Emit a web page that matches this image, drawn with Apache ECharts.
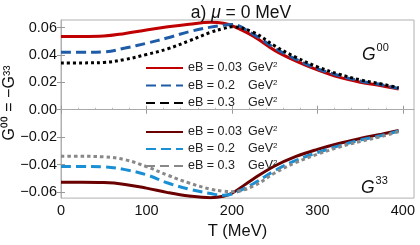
<!DOCTYPE html>
<html><head><meta charset="utf-8">
<script src="https://cdn.jsdelivr.net/npm/echarts@6/dist/echarts.min.js"></script>
<style>html,body{margin:0;padding:0;background:#fff}#c{width:420px;height:245px}</style>
</head><body><div id="c"></div>
<script>
var T = [0, 25, 50, 75, 100, 125, 150, 175, 190, 200, 225, 250, 275, 300, 325, 350, 375, 395];
var g00_eB003 = [0.0535, 0.0535, 0.0538, 0.0557, 0.0582, 0.0605, 0.0624, 0.0638, 0.0632, 0.0614, 0.0537, 0.0433, 0.0355, 0.0291, 0.0238, 0.0201, 0.0175, 0.0152];
var g00_eB02  = [0.0419, 0.0419, 0.0422, 0.0450, 0.0485, 0.0525, 0.0570, 0.0603, 0.0617, 0.0622, 0.0550, 0.0450, 0.0368, 0.0300, 0.0250, 0.0210, 0.0182, 0.0155];
var g00_eB03  = [0.0342, 0.0342, 0.0345, 0.0367, 0.0403, 0.0445, 0.0503, 0.0565, 0.0592, 0.0605, 0.0565, 0.0466, 0.0382, 0.0313, 0.0260, 0.0218, 0.0188, 0.0160];
var g33_eB003 = [-0.0530, -0.0530, -0.0532, -0.0545, -0.0572, -0.0605, -0.0630, -0.0642, -0.0632, -0.0610, -0.0505, -0.0411, -0.0341, -0.0289, -0.0246, -0.0210, -0.0178, -0.0151];
var g33_eB02  = [-0.0414, -0.0414, -0.0417, -0.0437, -0.0475, -0.0535, -0.0580, -0.0612, -0.0624, -0.0615, -0.0540, -0.0445, -0.0370, -0.0313, -0.0264, -0.0222, -0.0188, -0.0155];
var g33_eB03  = [-0.0340, -0.0340, -0.0344, -0.0365, -0.0415, -0.0478, -0.0535, -0.0580, -0.0594, -0.0598, -0.0558, -0.0462, -0.0385, -0.0325, -0.0274, -0.0232, -0.0195, -0.0160];
var xTicks = [0, 100, 200, 300, 400];
var yTicks = [-0.06, -0.04, -0.02, 0.00, 0.02, 0.04, 0.06];
var legendTop = ['eB = 0.03 GeV\u00b2 ', 'eB = 0.2 GeV\u00b2 ', 'eB = 0.3 GeV\u00b2 '];
var legendBot = ['eB = 0.03 GeV\u00b2', 'eB = 0.2 GeV\u00b2', 'eB = 0.3 GeV\u00b2'];

function pairs(v){ return T.map(function(t,i){ return [t, v[i]]; }); }
var FONT = '"Liberation Sans", Arial, sans-serif';
function fmtLegend(name){
  var p = name.trim().split(' ');
  return '{a|' + p[0] + ' ' + p[1] + ' ' + p[2] + '}{b|GeV}{s|2}';
}
function mkSeries(name, data, color, type, z){
  return {name: name, type: 'line', data: pairs(data), smooth: 0.4, symbol: 'none',
    lineStyle: {color: color, width: 3, type: type, cap: 'butt'}, itemStyle: {color: color}, z: z};
}
var chart = echarts.init(document.getElementById('c'), null, {renderer: 'canvas'});
var series = [
  mkSeries(legendTop[0], g00_eB003, '#c00000', 'solid', 3),
  mkSeries(legendTop[1], g00_eB02, '#1f5ca8', [10, 5], 4),
  mkSeries(legendTop[2], g00_eB03, '#000000', [3, 3], 5),
  mkSeries(legendBot[0], g33_eB003, '#6a0000', 'solid', 3),
  mkSeries(legendBot[1], g33_eB02, '#1a8fd4', [10, 5], 4),
  mkSeries(legendBot[2], g33_eB03, '#888888', [3.5, 3], 5)
];
series[0].markLine = {silent: true, symbol: 'none', label: {show: false},
  lineStyle: {color: '#aaaaaa', width: 1, type: 'solid'}, data: [{yAxis: 0}]};
var legRich = {
  a: {width: 60, fontSize: 12.5, fontFamily: FONT, color: '#222'},
  b: {fontSize: 12.5, fontFamily: FONT, color: '#222'},
  s: {fontSize: 8, fontFamily: FONT, color: '#222', verticalAlign: 'top', padding: [0, 0, 6, 0]}
};
var legItem = {opacity: 0, borderWidth: 0};
var titleStyle = {fontFamily: FONT, fontSize: 17.5, fontWeight: 'normal', color: '#111'};
chart.setOption({
  animation: false,
  backgroundColor: '#fff',
  title: {text: '{n|a) }{m|\u03bc}{n| = 0 MeV}', left: 236, textAlign: 'center', top: -1,
    textStyle: {fontFamily: FONT, fontSize: 17.5, fontWeight: 'normal', color: '#111',
      rich: {n: titleStyle, m: {fontFamily: FONT, fontSize: 17.5, fontStyle: 'italic', color: '#111'}}}},
  grid: {left: 61, right: 6, top: 20, bottom: 35, show: true, borderColor: '#b0b0b0', borderWidth: 1},
  legend: [
    {orient: 'vertical', left: 140, top: 56, itemWidth: 37, itemHeight: 12, itemGap: 4, itemStyle: legItem,
      data: [{name: legendTop[0]}, {name: legendTop[1]}, {name: legendTop[2], lineStyle: {type: [9, 5]}}],
      formatter: fmtLegend, textStyle: {rich: legRich}},
    {orient: 'vertical', left: 140, top: 120, itemWidth: 37, itemHeight: 12, itemGap: 3.5, itemStyle: legItem,
      data: [{name: legendBot[0]}, {name: legendBot[1]}, {name: legendBot[2], lineStyle: {type: [9, 5]}}],
      formatter: fmtLegend, textStyle: {rich: legRich}}
  ],
  xAxis: [
    {type: 'value', min: 0, max: 413, position: 'bottom',
      name: 'T (MeV)', nameLocation: 'middle', nameGap: 23,
      nameTextStyle: {fontFamily: FONT, fontSize: 16.5, color: '#111'},
      axisLine: {show: true, lineStyle: {color: '#b0b0b0'}},
      axisTick: {show: true, inside: true, length: 4, customValues: xTicks, lineStyle: {color: '#999'}},
      minorTick: {show: true, splitNumber: 5, length: 2, lineStyle: {color: '#bbb'}},
      axisLabel: {customValues: xTicks, fontFamily: FONT, fontSize: 14.5, color: '#111', margin: 5},
      splitLine: {show: false}},
    {type: 'value', min: 0, max: 413, position: 'top',
      axisLine: {show: false}, axisLabel: {show: false},
      axisTick: {show: true, inside: true, length: 4, customValues: xTicks, lineStyle: {color: '#999'}},
      splitLine: {show: false}}
  ],
  yAxis: [
    {type: 'value', min: -0.0645, max: 0.0655, position: 'left',
      axisLine: {show: true, lineStyle: {color: '#b0b0b0'}},
      axisTick: {show: true, inside: true, length: 4, customValues: yTicks, lineStyle: {color: '#999'}},
      axisLabel: {customValues: yTicks, fontFamily: FONT, fontSize: 14.5, color: '#111', margin: 4,
        formatter: function(v){ return v.toFixed(2).replace('-', '\u2212'); }},
      splitLine: {show: false}},
    {type: 'value', min: -0.0645, max: 0.0655, position: 'right',
      axisLine: {show: false}, axisLabel: {show: false},
      axisTick: {show: true, inside: true, length: 4, customValues: yTicks, lineStyle: {color: '#999'}},
      splitLine: {show: false}}
  ],
  graphic: [
    {type: 'text', x: 10, y: 103, rotation: Math.PI / 2,
      style: {text: 'G\u2070\u2070 = \u2212G\u00b3\u00b3', fontFamily: FONT, fontSize: 16, fill: '#111',
        align: 'center', verticalAlign: 'middle'}},
    {type: 'text', left: 362, top: 42,
      style: {text: '{g|G}{s|00}', rich: {
        g: {fontFamily: FONT, fontSize: 17.5, fontStyle: 'italic', fill: '#111', color: '#111', padding: [6, 1, 0, 0]},
        s: {fontFamily: FONT, fontSize: 11, fill: '#111', color: '#111', padding: [0, 0, 10, 0]}}}},
    {type: 'text', left: 361, top: 175,
      style: {text: '{g|G}{s|33}', rich: {
        g: {fontFamily: FONT, fontSize: 17.5, fontStyle: 'italic', fill: '#111', color: '#111', padding: [6, 1, 0, 0]},
        s: {fontFamily: FONT, fontSize: 11, fill: '#111', color: '#111', padding: [0, 0, 10, 0]}}}}
  ],
  series: series
});
</script></body></html>
